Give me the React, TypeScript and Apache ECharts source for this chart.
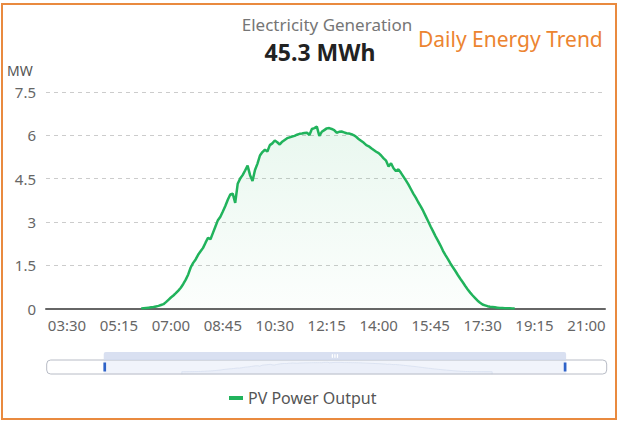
import React, { useEffect, useRef } from "react";
import * as echarts from "echarts";

// Time axis: 5-minute categories
const axisStart = "00:30";
const axisEnd = "23:15";
const stepMinutes = 5;

// PV power output (MW), every 5 minutes starting at 06:00
const pvStart = "06:00";
const pvOutput = [
  0.0, 0.01, 0.02, 0.03, 0.04, 0.05, 0.07, 0.09, 0.12, 0.15, 0.22, 0.3,
  0.38, 0.45, 0.53, 0.62, 0.72, 0.85, 1.0, 1.18, 1.42, 1.58, 1.7, 1.86,
  1.98, 2.1, 2.28, 2.45, 2.4, 2.62, 2.84, 3.06, 3.18, 3.36, 3.55, 3.77,
  3.95, 3.98, 3.66, 4.32, 4.5, 4.62, 4.78, 4.95, 4.62, 4.42, 4.8, 5.02,
  5.3, 5.42, 5.5, 5.44, 5.66, 5.72, 5.82, 5.76, 5.68, 5.78, 5.84, 5.9,
  5.93, 5.96, 5.98, 6.02, 6.05, 6.06, 6.08, 6.09, 6.01, 6.22, 6.25, 6.3,
  5.98, 6.12, 6.18, 6.24, 6.25, 6.22, 6.18, 6.09, 6.12, 6.13, 6.1, 6.07,
  6.06, 6.04, 6.0, 5.94, 5.86, 5.8, 5.74, 5.66, 5.62, 5.55, 5.49, 5.43,
  5.38, 5.3, 5.2, 5.12, 4.92, 5.03, 4.86, 4.76, 4.82, 4.7, 4.57, 4.44,
  4.3, 4.14, 3.98, 3.84, 3.68, 3.54, 3.38, 3.2, 3.02, 2.84, 2.67, 2.5,
  2.34, 2.18, 2.0, 1.85, 1.71, 1.56, 1.43, 1.3, 1.16, 1.03, 0.91, 0.78,
  0.66, 0.55, 0.45, 0.36, 0.27, 0.2, 0.14, 0.11, 0.08, 0.06, 0.05, 0.04,
  0.03, 0.02, 0.02, 0.01, 0.01, 0.01, 0.0, 0.0,
];

// Visible window and label spacing
const windowStart = "02:50";
const windowEnd = "21:35";
const firstLabel = "03:30";
const labelStepMinutes = 105;

const yTicks = [0, 1.5, 3, 4.5, 6, 7.5];

const headerTitle = "Electricity Generation";
const headerValue = "45.3 MWh";
const sideTitle = "Daily Energy Trend";
const unitName = "MW";
const seriesName = "PV Power Output";

const toMin = (s: string) => {
  const [h, m] = s.split(":").map(Number);
  return h * 60 + m;
};
const toLabel = (m: number) =>
  String(Math.floor(m / 60)).padStart(2, "0") + ":" + String(m % 60).padStart(2, "0");

const categories: string[] = [];
for (let m = toMin(axisStart); m <= toMin(axisEnd); m += stepMinutes) categories.push(toLabel(m));

const pvStartIdx = categories.indexOf(pvStart);
const seriesData = categories.map((_, i) => {
  const k = i - pvStartIdx;
  return k >= 0 && k < pvOutput.length ? pvOutput[k] : null;
});

const FONT = "'Noto Sans', sans-serif";
const GREEN = "#21b35c";

export default function App() {
  const ref = useRef<HTMLDivElement>(null);
  useEffect(() => {
    document.body.style.margin = "0";
    const chart = echarts.init(ref.current!, undefined, { renderer: "svg" });
    const labelBase = toMin(firstLabel);
    chart.setOption({
      animation: false,
      textStyle: { fontFamily: FONT },
      grid: { left: 46, right: 16, top: 92, bottom: 112.5 },
      graphic: [
        {
          type: "rect",
          shape: { x: 2, y: 4, width: 614, height: 415 },
          style: { fill: "none", stroke: "#E98A3F", lineWidth: 2 },
          silent: true,
        },
        {
          type: "text",
          x: 327,
          y: 24,
          style: {
            text: headerTitle,
            fill: "#767676",
            font: `17px ${FONT}`,
            textAlign: "center",
            textVerticalAlign: "middle",
          },
        },
        {
          type: "text",
          x: 320,
          y: 52,
          style: {
            text: headerValue,
            fill: "#222222",
            font: `bold 23px ${FONT}`,
            textAlign: "center",
            textVerticalAlign: "middle",
          },
        },
        {
          type: "text",
          x: 418,
          y: 39,
          style: {
            text: sideTitle,
            fill: "#EC8430",
            font: `21px ${FONT}`,
            textAlign: "left",
            textVerticalAlign: "middle",
          },
        },
        {
          type: "text",
          x: 7,
          y: 70,
          style: {
            text: unitName,
            fill: "#555555",
            font: `14px ${FONT}`,
            textAlign: "left",
            textVerticalAlign: "middle",
          },
        },
      ],
      legend: {
        left: 224,
        top: 385,
        icon: "rect",
        itemWidth: 14,
        itemHeight: 4,
        itemGap: 10,
        textStyle: { color: "#555", fontSize: 16, fontFamily: FONT },
        data: [seriesName],
      },
      xAxis: {
        type: "category",
        data: categories,
        axisLine: { lineStyle: { color: "#666", width: 2 } },
        axisTick: { show: false },
        axisLabel: {
          color: "#666",
          fontSize: 15,
          margin: 9,
          interval: (_i: number, v: string) => (toMin(v) - labelBase) % labelStepMinutes === 0,
        },
        splitLine: { show: false },
      },
      yAxis: {
        type: "value",
        min: yTicks[0],
        max: yTicks[yTicks.length - 1],
        interval: yTicks[1] - yTicks[0],
        axisLine: { show: false },
        axisTick: { show: false },
        axisLabel: { color: "#666", fontSize: 15, margin: 10 },
        splitLine: { lineStyle: { color: "#cccccc", type: [4, 4], width: 1 } },
      },
      dataZoom: [
        {
          type: "slider",
          xAxisIndex: 0,
          startValue: windowStart,
          endValue: windowEnd,
          left: 43,
          right: 17,
          top: 352,
          height: 15,
          showDetail: false,
          borderColor: "#b8bcc6",
          borderRadius: 4,
          backgroundColor: "rgba(255,255,255,0)",
          fillerColor: "rgba(200,212,238,0.25)",
          handleIcon: "path://M0,0H3V10H0Z",
          handleSize: "60%",
          handleStyle: { color: "#2f63c8", borderColor: "#2f63c8", borderWidth: 0 },
          moveHandleSize: 8,
          moveHandleStyle: { color: "#d2dbee", opacity: 0.85 },
          dataBackground: {
            lineStyle: { color: "#e4e8f0", width: 0.5 },
            areaStyle: { color: "#e8ecf4", opacity: 0.2 },
          },
          selectedDataBackground: {
            lineStyle: { color: "#dde3f0", width: 0.8 },
            areaStyle: { color: "#e6ebf6", opacity: 0.3 },
          },
          emphasis: { handleStyle: { color: "#2f63c8" } },
        },
      ],
      series: [
        {
          name: seriesName,
          type: "line",
          data: seriesData,
          symbol: "none",
          lineStyle: { color: GREEN, width: 2.5 },
          itemStyle: { color: GREEN },
          areaStyle: {
            color: new echarts.graphic.LinearGradient(0, 0, 0, 1, [
              { offset: 0, color: "rgba(33,179,92,0.14)" },
              { offset: 1, color: "rgba(33,179,92,0.02)" },
            ]),
          },
        },
      ],
    });
    return () => chart.dispose();
  }, []);
  return (
    <div
      ref={ref}
      style={{ position: "absolute", left: 0, top: 0, width: 621, height: 421, background: "#fff" }}
    />
  );
}
